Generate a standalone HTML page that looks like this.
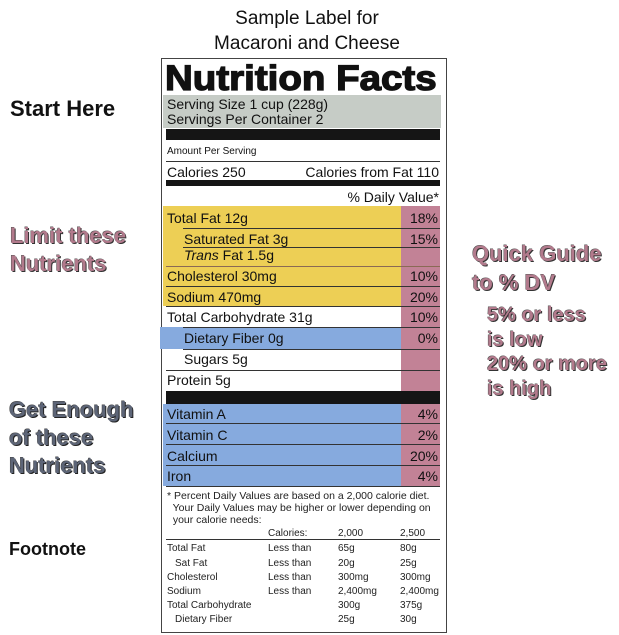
<!DOCTYPE html>
<html><head><meta charset="utf-8"><style>
body{margin:0;width:619px;height:635px;background:#fff;position:relative;overflow:hidden;font-family:"Liberation Sans",Arial,sans-serif;color:#111}
div{position:absolute;white-space:nowrap}
.t{line-height:1}
.side{font-weight:bold;font-size:22px;line-height:28px}
.pk{color:#b27a8c;text-shadow:1px 1px 0 #333,-0.5px -0.5px 0 #555}
.gy{color:#5d6577;text-shadow:1px 1px 0 #222,-0.5px -0.5px 0 #444}
.r{font-size:14px;line-height:1}
.ln{height:1px;background:#333}
.f{font-size:10px;line-height:1;color:#222}
</style></head><body>
<div class="t" style="left:0;width:614px;text-align:center;top:6px;font-size:19px;line-height:25px">Sample Label for<br>Macaroni and Cheese</div>

<div class="side" style="left:10px;top:95px;color:#111">Start Here</div>
<div class="side pk" style="left:10px;top:222px">Limit these<br>Nutrients</div>
<div class="side gy" style="left:9px;top:396px">Get Enough<br>of these<br>Nutrients</div>
<div class="side" style="left:9px;top:535px;font-size:18px;color:#111">Footnote</div>
<div class="side pk" style="left:472px;top:239px;font-size:22px;line-height:29px">Quick Guide<br>to % DV</div>
<div class="side pk" style="left:487px;top:303px;font-size:20px;line-height:24.5px">5% or less<br>is low<br>20% or more<br>is high</div>

<!-- label box -->
<div style="left:161px;top:58px;width:284px;height:573px;border:1px solid #444"></div>
<div class="t" style="left:165px;top:61px;font-size:35px;font-weight:900;-webkit-text-stroke:1.3px #111;transform:scaleX(1.1);transform-origin:left">Nutrition Facts</div>
<div style="left:163px;top:95px;width:278px;height:33px;background:#c6ccc6"></div>
<div class="r" style="left:167px;top:97px">Serving Size 1 cup (228g)</div>
<div class="r" style="left:167px;top:112px">Servings Per Container 2</div>
<div style="left:166px;top:129px;width:274px;height:11px;background:#151515"></div>
<div class="t" style="left:167px;top:147px;font-size:10px">Amount Per Serving</div>
<div class="ln" style="left:166px;top:161px;width:274px"></div>
<div class="r" style="left:167px;top:165px">Calories 250</div>
<div class="r" style="left:300px;top:165px;width:139px;text-align:right">Calories from Fat 110</div>
<div style="left:166px;top:180px;width:274px;height:6px;background:#151515"></div>
<div class="r" style="left:300px;top:190px;width:139px;text-align:right">% Daily Value*</div>

<div style="left:163px;top:206px;width:238px;height:100px;background:#edcf55"></div>
<div style="left:401px;top:206px;width:39px;height:280px;background:#c28296"></div>
<div style="left:160px;top:327px;width:241px;height:22px;background:#86aade"></div>
<div style="left:163px;top:404px;width:238px;height:82px;background:#86aade"></div>
<div style="left:166px;top:391px;width:274px;height:13px;background:#151515"></div>

<div class="r" style="left:167px;top:211px">Total Fat 12g</div><div class="r" style="left:400px;top:211px;width:38px;text-align:right">18%</div>
<div class="ln" style="left:183px;top:228px;width:257px"></div>
<div class="r" style="left:184px;top:232px">Saturated Fat 3g</div><div class="r" style="left:400px;top:232px;width:38px;text-align:right">15%</div>
<div class="ln" style="left:183px;top:247px;width:257px"></div>
<div class="r" style="left:184px;top:248px"><i>Trans</i> Fat 1.5g</div>
<div class="ln" style="left:166px;top:266px;width:274px;background:#8a6a55"></div>
<div class="r" style="left:167px;top:269px">Cholesterol 30mg</div><div class="r" style="left:400px;top:269px;width:38px;text-align:right">10%</div>
<div class="ln" style="left:166px;top:286px;width:274px"></div>
<div class="r" style="left:167px;top:290px">Sodium 470mg</div><div class="r" style="left:400px;top:290px;width:38px;text-align:right">20%</div>
<div class="ln" style="left:166px;top:306px;width:274px"></div>
<div class="r" style="left:167px;top:310px">Total Carbohydrate 31g</div><div class="r" style="left:400px;top:310px;width:38px;text-align:right">10%</div>
<div class="ln" style="left:183px;top:327px;width:257px"></div>
<div class="r" style="left:184px;top:331px">Dietary Fiber 0g</div><div class="r" style="left:400px;top:331px;width:38px;text-align:right">0%</div>
<div class="ln" style="left:183px;top:349px;width:257px"></div>
<div class="r" style="left:184px;top:352px">Sugars 5g</div>
<div class="ln" style="left:166px;top:370px;width:274px"></div>
<div class="r" style="left:167px;top:373px">Protein 5g</div>

<div class="r" style="left:167px;top:407px">Vitamin A</div><div class="r" style="left:400px;top:407px;width:38px;text-align:right">4%</div>
<div class="ln" style="left:166px;top:423px;width:274px"></div>
<div class="r" style="left:167px;top:428px">Vitamin C</div><div class="r" style="left:400px;top:428px;width:38px;text-align:right">2%</div>
<div class="ln" style="left:166px;top:444px;width:274px"></div>
<div class="r" style="left:167px;top:449px">Calcium</div><div class="r" style="left:400px;top:449px;width:38px;text-align:right">20%</div>
<div class="ln" style="left:166px;top:465px;width:274px"></div>
<div class="r" style="left:167px;top:469px">Iron</div><div class="r" style="left:400px;top:469px;width:38px;text-align:right">4%</div>
<div class="ln" style="left:166px;top:486px;width:274px"></div>

<div class="f" style="left:167px;top:490px;font-size:10.5px;line-height:12px">* Percent Daily Values are based on a 2,000 calorie diet.<br>&nbsp; Your Daily Values may be higher or lower depending on<br>&nbsp; your calorie needs:</div>
<div class="f" style="left:268px;top:529px">Calories:</div><div class="f" style="left:338px;top:529px">2,000</div><div class="f" style="left:400px;top:529px">2,500</div>
<div class="ln" style="left:166px;top:539px;width:274px"></div>
<div class="f" style="left:167px;top:544px">Total Fat</div><div class="f" style="left:268px;top:544px">Less than</div><div class="f" style="left:338px;top:544px">65g</div><div class="f" style="left:400px;top:544px">80g</div>
<div class="f" style="left:175px;top:559px">Sat Fat</div><div class="f" style="left:268px;top:559px">Less than</div><div class="f" style="left:338px;top:559px">20g</div><div class="f" style="left:400px;top:559px">25g</div>
<div class="f" style="left:167px;top:573px">Cholesterol</div><div class="f" style="left:268px;top:573px">Less than</div><div class="f" style="left:338px;top:573px">300mg</div><div class="f" style="left:400px;top:573px">300mg</div>
<div class="f" style="left:167px;top:587px">Sodium</div><div class="f" style="left:268px;top:587px">Less than</div><div class="f" style="left:338px;top:587px">2,400mg</div><div class="f" style="left:400px;top:587px">2,400mg</div>
<div class="f" style="left:167px;top:601px">Total Carbohydrate</div><div class="f" style="left:338px;top:601px">300g</div><div class="f" style="left:400px;top:601px">375g</div>
<div class="f" style="left:175px;top:615px">Dietary Fiber</div><div class="f" style="left:338px;top:615px">25g</div><div class="f" style="left:400px;top:615px">30g</div>
</body></html>
